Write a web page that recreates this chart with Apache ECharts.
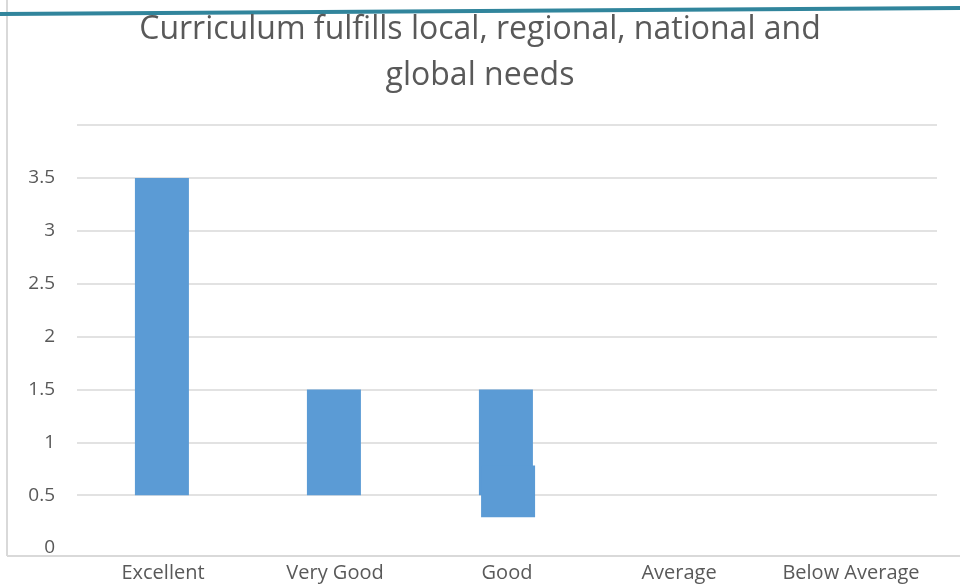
<!DOCTYPE html>
<html lang="en" style="height: 100%">
<head>
  <meta charset="utf-8">
</head>
<body style="height: 100%; margin: 0; background: #fff">
  <div id="container" style="width: 960px; height: 587px"></div>

  <script type="text/javascript" src="https://cdn.jsdelivr.net/npm/echarts@6/dist/echarts.min.js"></script>
  <script type="text/javascript">
    // ratings on the x axis
    var categories = ['Excellent', 'Very Good', 'Good', 'Average', 'Below Average'];
    // floating bars: bottom and top of each column
    var barLow  = [0.5, 0.5, 0.5, '-', '-'];
    var barHigh = [3.5, 1.5, 1.5, '-', '-'];
    // the odd extra piece stuck on the Good column
    var patchLow  = ['-', '-', 0.29, '-', '-'];
    var patchHigh = ['-', '-', 0.78, '-', '-'];

    function span(lo, hi) {
      return lo.map(function (v, i) {
        return v === '-' ? '-' : +(hi[i] - v).toFixed(2);
      });
    }

    var dom = document.getElementById('container');
    var myChart = echarts.init(dom, null, { renderer: 'canvas' });
    var textColor = '#595959';
    var gridColor = '#d9d9d9';
    var barColor = '#5b9bd5';

    var option = {
      backgroundColor: '#fff',
      animation: false,
      title: {
        text: 'Curriculum fulfills local, regional, national and\nglobal needs',
        left: 'center',
        top: 2,
        textStyle: {
          fontFamily: 'Open Sans',
          fontSize: 32,
          fontWeight: 'normal',
          color: textColor,
          lineHeight: 46
        }
      },
      grid: { left: 77, right: 23, top: 125, bottom: 39 },
      xAxis: {
        type: 'category',
        data: categories,
        axisLine: { show: false },
        axisTick: { show: false },
        axisLabel: {
          interval: 0,
          hideOverlap: false,
          color: textColor,
          fontFamily: 'Open Sans',
          fontSize: 20,
          margin: 15
        }
      },
      yAxis: {
        type: 'value',
        min: 0,
        max: 4,
        interval: 0.5,
        axisLine: { show: false },
        axisTick: { show: false },
        axisLabel: {
          color: textColor,
          fontFamily: 'Open Sans',
          fontSize: 19,
          margin: 22,
          formatter: function (v) { return v === 4 ? '' : v; }
        },
        splitLine: {
          showMinLine: false,
          lineStyle: { color: gridColor, width: 1.5 }
        }
      },
      graphic: [
        { type: 'line', shape: { x1: 7, y1: 0, x2: 7, y2: 556 }, style: { stroke: gridColor, lineWidth: 2 } },
        { type: 'line', shape: { x1: 7, y1: 556, x2: 960, y2: 556 }, style: { stroke: gridColor, lineWidth: 2 } },
        { type: 'line', shape: { x1: 0, y1: 14, x2: 960, y2: 8 }, style: { stroke: '#31859c', lineWidth: 4 } }
      ],
      series: [
        {
          type: 'bar', stack: 'main', barWidth: 54, silent: true,
          itemStyle: { color: 'transparent' },
          data: barLow
        },
        {
          type: 'bar', stack: 'main', barWidth: 54,
          itemStyle: { color: barColor },
          data: span(barLow, barHigh)
        },
        {
          type: 'bar', stack: 'patch', barWidth: 54, silent: true,
          itemStyle: { color: 'transparent' },
          data: patchLow
        },
        {
          type: 'bar', stack: 'patch', barWidth: 54, barGap: '-96%',
          itemStyle: { color: barColor },
          data: span(patchLow, patchHigh)
        }
      ]
    };

    myChart.setOption(option);
    window.addEventListener('resize', myChart.resize);
  </script>
</body>
</html>
